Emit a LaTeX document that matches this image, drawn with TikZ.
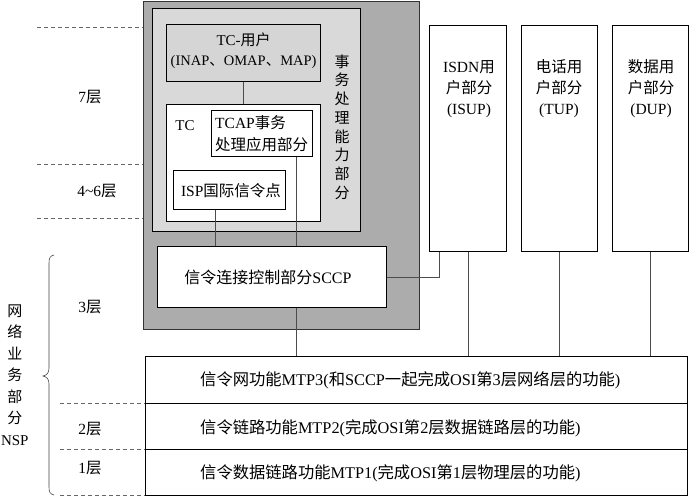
\documentclass[tikz,border=0pt]{standalone}
\usepackage{fontspec}
\setmainfont{Liberation Serif}
\newfontfamily\cjk{Noto Sans CJK SC}
\newcommand\zh[1]{{\cjk #1}}
\begin{document}
\begin{tikzpicture}[x=1pt,y=-1pt,
  outerbox/.style={draw=black!80, line width=0.7pt, fill=gray!65, inner sep=0pt, anchor=north west},
  lightbox/.style={draw=black, line width=1.2pt, fill=gray!30, inner sep=0pt, anchor=north west},
  whitebox/.style={draw=black, line width=1.2pt, fill=white, inner sep=0pt, anchor=north west},
  conn/.style={draw=black!70, line width=0.6pt},
  guide/.style={draw=black!60, line width=0.5pt, dash pattern=on 4pt off 3pt},
  lbl/.style={inner sep=0pt, font=\fontsize{15.5}{18}\selectfont},
  mtptext/.style={inner sep=0pt, anchor=west, font=\fontsize{16.3}{19}\selectfont},
  midtext/.style={inner sep=0pt, align=center, font=\fontsize{15.5}{21}\selectfont}
]
\useasboundingbox (0,0) rectangle (689,496);

% left guide lines
\draw[guide] (37,27) -- (143,27);
\draw[guide] (37,164) -- (143,164);
\draw[guide] (37,218) -- (143,218);
\draw[guide] (60,403) -- (145,403);
\draw[guide] (60,449) -- (145,449);
\draw[guide] (60,495) -- (145,495);

% layer labels
\node[lbl] (l7) at (90,97) {7\zh{层}};
\node[lbl] (l46) at (97,191) {4\textasciitilde 6\zh{层}};
\node[lbl] (l3) at (90,307) {3\zh{层}};
\node[lbl] (l2) at (90,429) {2\zh{层}};
\node[lbl] (l1) at (90,468) {1\zh{层}};

% brace
\draw[black!75, line width=0.6pt] (54,255) .. controls (50,256) and (49,258) .. (49,263)
  -- (49,368) .. controls (49,373) and (47,375) .. (43,376)
  .. controls (47,377) and (49,379) .. (49,384)
  -- (49,487) .. controls (49,492) and (50,494) .. (54,495);

\node[inner sep=0pt, align=center, font=\fontsize{15}{21.5}\selectfont] (nsp) at (14.8,375)
  {\zh{网}\\\zh{络}\\\zh{业}\\\zh{务}\\\zh{部}\\\zh{分}\\NSP};

% TCAP part
\node[outerbox, minimum width=276pt, minimum height=328pt] (outer) at (143,1) {};
\node[lightbox, minimum width=208pt, minimum height=223pt] (tcapbox) at (152,8) {};
\node[inner sep=0pt, align=center, font=\fontsize{15}{18.7}\selectfont] (tcaplbl) at (342,127)
  {\zh{事}\\\zh{务}\\\zh{处}\\\zh{理}\\\zh{能}\\\zh{力}\\\zh{部}\\\zh{分}};

\node[lightbox, fill=gray!33, minimum width=154pt, minimum height=57pt] (tcuser) at (166,24) {};
\node[inner sep=0pt, font=\fontsize{15}{18}\selectfont] (tcusert1) at (tcuser.center |- 0,40) {TC-\zh{用户}};
\node[inner sep=0pt, font=\fontsize{14.5}{18}\selectfont] (tcusert2) at (tcuser.center |- 0,62) {(INAP\zh{、}OMAP\zh{、}MAP)};

\node[whitebox, minimum width=154pt, minimum height=117pt] (tc) at (166,104) {};
\node[inner sep=0pt, font=\fontsize{15}{18}\selectfont] (tclbl) at (185,126) {TC};

\node[whitebox, minimum width=101pt, minimum height=46pt] (tcap) at (211,110) {};
\node[inner sep=0pt, anchor=north west, align=left, font=\fontsize{15.5}{22}\selectfont] (tcapt) at (215,115)
  {TCAP\zh{事务}\\\zh{处理应用部分}};

\node[whitebox, minimum width=112pt, minimum height=39pt] (isp) at (173,170) {};
\node[inner sep=0pt, font=\fontsize{15.5}{18}\selectfont] (ispt) at (231,191) {ISP\zh{国际信令点}};

\node[whitebox, minimum width=229pt, minimum height=61pt] (sccp) at (157,246) {};
\node[inner sep=0pt, font=\fontsize{16}{18}\selectfont] (sccpt) at (268,277) {\zh{信令连接控制部分}SCCP};

% user parts
\node[whitebox, minimum width=77pt, minimum height=226pt] (isup) at (429,25) {};
\node[midtext] (isupt) at (469,89) {ISDN\zh{用}\\\zh{户部分}\\(ISUP)};
\node[whitebox, minimum width=76pt, minimum height=226pt] (tup) at (521,25) {};
\node[midtext] (tupt) at (559,89) {\zh{电话用}\\\zh{户部分}\\(TUP)};
\node[whitebox, minimum width=76pt, minimum height=226pt] (dup) at (612,25) {};
\node[midtext] (dupt) at (651,89) {\zh{数据用}\\\zh{户部分}\\(DUP)};

% MTP
\node[whitebox, minimum width=542pt, minimum height=47pt] (mtp3) at (145,356) {};
\node[whitebox, minimum width=542pt, minimum height=46pt] (mtp2) at (145,403) {};
\node[whitebox, minimum width=542pt, minimum height=46pt] (mtp1) at (145,449) {};
\node[mtptext] (mtp3t) at (200,380) {\zh{信令网功能}MTP3(\zh{和}SCCP\zh{一起完成}OSI\zh{第}3\zh{层网络层的功能})};
\node[mtptext] (mtp2t) at (200,428) {\zh{信令链路功能}MTP2(\zh{完成}OSI\zh{第}2\zh{层数据链路层的功能})};
\node[mtptext] (mtp1t) at (200,473) {\zh{信令数据链路功能}MTP1(\zh{完成}OSI\zh{第}1\zh{层物理层的功能})};

% connectors
\draw[conn] (tcuser.south) -- (tc.north);
\draw[conn] (isp.south west) ++(42,0) coordinate (ispx) -- (ispx |- sccp.north);
\draw[conn] (tcap.south east) ++(-17,0) coordinate (tcapx) -- (tcapx |- sccp.north);
\draw[conn] (tcapx |- sccp.south) -- (tcapx |- mtp3.north);
\draw[conn] (isup.south west) ++(10,0) coordinate (isupx);
\draw[conn] (sccp.east) -| (isupx);
\draw[conn] (isup.south) -- (isup.south |- mtp3.north);
\draw[conn] (tup.south) -- (tup.south |- mtp3.north);
\draw[conn] (dup.south) -- (dup.south |- mtp3.north);
\end{tikzpicture}
\end{document}
